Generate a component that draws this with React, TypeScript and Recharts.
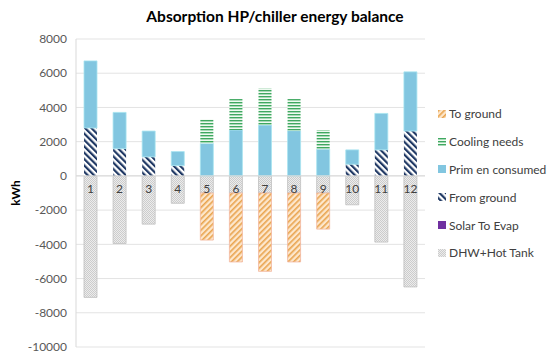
import React from "react";
import { BarChart, Bar, XAxis, YAxis, CartesianGrid, LabelList, ReferenceLine } from "recharts";

const months = ["1", "2", "3", "4", "5", "6", "7", "8", "9", "10", "11", "12"];
const fromGround = [2800, 1590, 1110, 600, 0, 0, 0, 0, 0, 680, 1520, 2620];
const primEn = [3920, 2120, 1510, 820, 1900, 2680, 2970, 2640, 1560, 840, 2130, 3460];
const coolingNeeds = [0, 0, 0, 0, 1400, 1810, 2140, 1850, 1120, 0, 0, 0];
const solarToEvap = [0, 0, 0, 0, 0, 0, 0, 0, 0, 0, 0, 0];
const toGround = [0, 0, 0, 0, -2750, -4030, -4580, -4030, -2110, 0, 0, 0];
const dhwHotTank = [-7100, -3950, -2820, -1600, -1000, -1000, -1000, -1000, -1000, -1690, -3870, -6490];
const yTicks = [-10000, -8000, -6000, -4000, -2000, 0, 2000, 4000, 6000, 8000];

const data = months.map((m, i) => ({
  month: m,
  fromGround: fromGround[i],
  primEn: primEn[i],
  cooling: coolingNeeds[i],
  solar: solarToEvap[i],
  toGround: toGround[i],
  dhw: dhwHotTank[i],
}));

const FONT = "Lato, 'Liberation Sans', sans-serif";

const legendItems = [
  { name: "To ground", fill: "url(#pToGround)" },
  { name: "Cooling needs", fill: "url(#pCooling)" },
  { name: "Prim en consumed", fill: "#82c6e0" },
  { name: "From ground", fill: "url(#pFromGround)" },
  { name: "Solar To Evap", fill: "#7030a0" },
  { name: "DHW+Hot Tank", fill: "url(#pDhw)" },
];

const MonthLabel = (props: any) => {
  const { x, y, width, height, value } = props;
  const zeroY = Math.min(y, y + height);
  return (
    <text x={x + width / 2} y={zeroY + 17} textAnchor="middle" fontSize={12} fill="#404040" fontFamily={FONT}>
      {value}
    </text>
  );
};

export default function App() {
  return (
    <div style={{ position: "absolute", left: 0, top: 0, width: 550, height: 363, background: "#fff", fontFamily: FONT }}>
      <div style={{ position: "absolute", left: 0, top: 7, width: 550, textAlign: "center", fontWeight: 700, fontSize: 15.5, color: "#000" }}>
        Absorption HP/chiller energy balance
      </div>
      <BarChart
        width={550}
        height={363}
        data={data}
        stackOffset="sign"
        margin={{ top: 39, right: 125, bottom: 16, left: 0 }}
        barSize={13}
      >
        <defs>
          <pattern id="pToGround" width="4" height="4" patternUnits="userSpaceOnUse" patternTransform="rotate(45)">
            <rect width="4" height="4" fill="#fde7cc" />
            <rect width="1.6" height="4" fill="#e9a44e" />
          </pattern>
          <pattern id="pFromGround" width="4.5" height="4.5" patternUnits="userSpaceOnUse" patternTransform="rotate(-45)">
            <rect width="4.5" height="4.5" fill="#ffffff" />
            <rect width="2.2" height="4.5" fill="#1f3864" />
          </pattern>
          <pattern id="pCooling" width="3" height="3" patternUnits="userSpaceOnUse">
            <rect width="3" height="3" fill="#effaf1" />
            <rect width="3" height="1.4" fill="#3fa860" />
          </pattern>
          <pattern id="pDhw" width="2" height="2" patternUnits="userSpaceOnUse">
            <rect width="2" height="2" fill="#ececec" />
            <rect width="1" height="1" fill="#cccccc" />
            <rect x="1" y="1" width="1" height="1" fill="#cccccc" />
          </pattern>
        </defs>
        <CartesianGrid vertical={false} stroke="#e3e3e3" />
        <XAxis dataKey="month" height={0} tick={false} axisLine={false} tickLine={false} />
        <YAxis
          width={76}
          domain={[-10000, 8000]}
          ticks={yTicks}
          interval={0}
          tickSize={0}
          tickMargin={9}
          axisLine={{ stroke: "#d9d9d9" }}
          tickLine={false}
          tick={{ fontSize: 12, fill: "#595959", fontFamily: FONT }}
          label={{ value: "kWh", angle: -90, position: "insideLeft", offset: 16, style: { fontWeight: 700, fontSize: 12, fill: "#000", fontFamily: FONT, textAnchor: "middle" } }}
        />
        <ReferenceLine y={0} stroke="#d9d9d9" />
        <Bar dataKey="dhw" stackId="s" fill="url(#pDhw)" stroke="#c0c0c0" strokeWidth={0.8} isAnimationActive={false}>
          <LabelList dataKey="month" content={MonthLabel} />
        </Bar>
        <Bar dataKey="toGround" stackId="s" fill="url(#pToGround)" stroke="#f2b7a0" strokeWidth={0.8} isAnimationActive={false} />
        <Bar dataKey="fromGround" stackId="s" fill="url(#pFromGround)" isAnimationActive={false} />
        <Bar dataKey="primEn" stackId="s" fill="#82c6e0" stroke="#a8e4f0" strokeWidth={0.8} isAnimationActive={false} />
        <Bar dataKey="cooling" stackId="s" fill="url(#pCooling)" isAnimationActive={false} />
        <Bar dataKey="solar" stackId="s" fill="#7030a0" isAnimationActive={false} />
      </BarChart>
      <div style={{ position: "absolute", left: 438, top: 100 }}>
        {legendItems.map((it) => (
          <div key={it.name} style={{ display: "flex", alignItems: "center", height: 27.8, fontSize: 12, color: "#404040", whiteSpace: "nowrap" }}>
            <svg width={8} height={8} style={{ marginRight: 3 }}>
              <rect width={8} height={8} fill={it.fill} />
            </svg>
            {it.name}
          </div>
        ))}
      </div>
    </div>
  );
}
